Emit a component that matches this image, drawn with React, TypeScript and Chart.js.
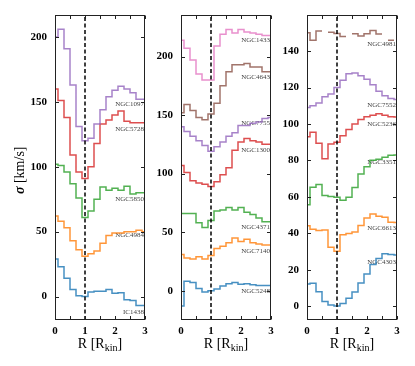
import React, { useEffect, useRef } from 'react';
import { Chart, registerables } from 'chart.js';

Chart.register(...registerables);

// ---------- data ----------
const R_BINS = [0, 0.2, 0.4, 0.6, 0.8, 1.0, 1.2, 1.4, 1.6, 1.8, 2.0, 2.2, 2.4, 2.6, 2.8, 3.0];
const BIN_HALF = 0.1;
const R_KIN = 1;
const X_RANGE = [0, 3];
const X_TICKS = [0, 0.5, 1, 1.5, 2, 2.5, 3];

// panel 1
const NGC1097 = [200, 206, 191, 163, 131, 120, 122, 133, 144, 154, 159, 162, 160, 157, 152, 152];
const NGC5728 = [160, 151, 138, 109, 96, 91, 100, 118, 133, 136, 140, 143, 135, 134, 134, 134];
const NGC5850 = [102, 101, 96, 87, 76, 61, 66, 75, 84.5, 82, 83.5, 82, 85, 79, 80, 80];
const NGC4984 = [62, 58, 53, 43, 36, 31, 33, 35, 41, 47, 49, 49, 50, 50, 51, 50];
const IC1438 = [29, 23, 14, 5.5, 0.5, 0, 3.5, 4, 4, 5.5, 2.5, 3, -2.5, -3, -7, -7];
const P1_NAMES = ['NGC1097', 'NGC5728', 'NGC5850', 'NGC4984', 'IC1438'];
const P1_LABEL_Y = [148.6, 129.2, 75, 47, -11.9];
const P1_Y_TICKS = [0, 50, 100, 150, 200];
const P1_Y_RANGE = [-18.1, 217.3];

// panel 2
const NGC1433 = [214, 207, 197, 185, 180, 180, 209, 219, 223, 220, 223, 221, 220, 219, 218, 218];
const NGC4643 = [152, 159, 154, 148, 146, 151, 160, 175, 187, 193, 193, 194, 191, 191, 187, 187];
const NGC7755 = [140, 136, 132, 128, 124, 119, 123, 127, 132, 135, 141, 141, 143, 144, 147, 148];
const NGC1300 = [107, 101, 94, 92, 91, 89, 93, 99, 105, 120, 127, 130, 128, 127, 125, 125];
const NGC4371 = [66, 66, 66, 58, 54, 60, 68, 69, 71, 69, 71, 67, 65, 62, 59, 59];
const NGC7140 = [31, 28, 27, 29, 27, 30, 36, 38, 41, 45, 42, 44, 41, 40, 39, 39];
const NGC5248 = [-13, 8, 7, 2, -1, 0, 1.5, 4, 6, 7, 5.5, 6, 5, 4.5, 4.5, 4.5];
const P2_NAMES = ['NGC1433', 'NGC4643', 'NGC7755', 'NGC1300', 'NGC4371', 'NGC7140', 'NGC5248'];
const P2_LABEL_Y = [214, 182.3, 143, 120.4, 54.5, 33.8, -0.3];
const P2_Y_TICKS = [0, 50, 100, 150, 200];
const P2_Y_RANGE = [-25, 235.8];

// panel 3
const NGC4981 = [150, 146, 151, null, 150.3, 149.6, 148, null, 149.5, 148.3, 149.5, 151.3, 149.3, null, 146, null];
const NGC7552 = [109, 110, 111.5, 115, 116.5, 120, 124, 127.5, 128, 126.5, 124.5, 121.5, 118, 115.5, 114, 113.5];
const NGC5236 = [93, 95.5, 89.5, 81, 89, 90, 93.5, 97, 100, 102.5, 104, 104.8, 105.6, 104.8, 104, 103.8];
const NGC3351 = [55.7, 65.3, 66.8, 60.8, 60.3, 59.8, 58.2, 59.8, 65.2, 72.6, 76.5, 80.1, 80.7, 81.7, 82.9, 83];
const NGC6613 = [44.2, 42.3, 41.6, 41.8, 32.4, 30.2, 39.3, 40, 40.7, 44.3, 48.4, 50.7, 49.4, 48.9, 46.1, 46];
const NGC4303 = [12.3, 12.6, 8, 2.7, 0.7, 0.2, 1.6, 4.4, 7.8, 12.8, 17.7, 22.9, 26.2, 28.9, 28.4, 28.2];
const P3_NAMES = ['NGC4981', 'NGC7552', 'NGC5236', 'NGC3351', 'NGC6613', 'NGC4303'];
const P3_LABEL_Y = [143.7, 110.1, 100.1, 79.2, 42.9, 24.3];
const P3_Y_TICKS = [0, 20, 40, 60, 80, 100, 120, 140];
const P3_Y_RANGE = [-7.5, 160];

// ---------- styles ----------
const C = {
  blue: 'rgba(31,119,180,0.82)',
  orange: 'rgba(255,127,14,0.82)',
  green: 'rgba(44,160,44,0.82)',
  red: 'rgba(214,39,40,0.82)',
  purple: 'rgba(148,103,189,0.82)',
  brown: 'rgba(140,86,75,0.82)',
  pink: 'rgba(227,119,194,0.82)',
};
const SERIF = '"Liberation Serif", "DejaVu Serif", serif';

const PANELS = [
  {
    left: 0, axisWidth: 55, yRange: P1_Y_RANGE, yTicks: P1_Y_TICKS, yTitle: true,
    series: [NGC1097, NGC5728, NGC5850, NGC4984, IC1438],
    names: P1_NAMES, labelY: P1_LABEL_Y,
    colors: [C.purple, C.red, C.green, C.orange, C.blue],
  },
  {
    left: 146, axisWidth: 35, yRange: P2_Y_RANGE, yTicks: P2_Y_TICKS, yTitle: false,
    series: [NGC1433, NGC4643, NGC7755, NGC1300, NGC4371, NGC7140, NGC5248],
    names: P2_NAMES, labelY: P2_LABEL_Y,
    colors: [C.pink, C.brown, C.purple, C.red, C.green, C.orange, C.blue],
  },
  {
    left: 272, axisWidth: 35, yRange: P3_Y_RANGE, yTicks: P3_Y_TICKS, yTitle: false,
    series: [NGC4981, NGC7552, NGC5236, NGC3351, NGC6613, NGC4303],
    names: P3_NAMES, labelY: P3_LABEL_Y,
    colors: [C.brown, C.purple, C.red, C.green, C.orange, C.blue],
  },
];

const PLOT_W = 90;
const PAD_R = 10;
const PAD_T = 14;
const X_AXIS_H = 46;
const H = 366;

function stepPoints(values: (number | null)[]) {
  const pts: { x: number; y: number | null }[] = [];
  values.forEach((v, i) => {
    const c = R_BINS[i];
    if (v === null) {
      pts.push({ x: c, y: null });
      return;
    }
    pts.push({ x: Math.max(X_RANGE[0], c - BIN_HALF), y: v });
    pts.push({ x: Math.min(X_RANGE[1], c + BIN_HALF), y: v });
  });
  return pts;
}

const framePlugin = {
  id: 'frame',
  beforeDatasetsDraw(chart: any, _a: any, opts: any) {
    const { ctx, chartArea: a, scales } = chart;
    ctx.save();
    ctx.font = `7px ${SERIF}`;
    ctx.fillStyle = '#444';
    ctx.textAlign = 'right';
    ctx.textBaseline = 'middle';
    (opts.labels || []).forEach((l: any) => {
      ctx.fillText(l.text, a.right - 1, scales.y.getPixelForValue(l.y));
    });
    ctx.restore();
  },
  afterDatasetsDraw(chart: any, _a: any, opts: any) {
    const { ctx, chartArea: a, scales } = chart;
    const L = Math.round(a.left) + 0.5;
    const R = Math.round(a.right) - 0.5;
    const T = Math.round(a.top) + 0.5;
    const B = Math.round(a.bottom) - 0.5;
    ctx.save();
    ctx.strokeStyle = '#222';
    ctx.lineWidth = 1;
    ctx.strokeRect(L, T, R - L, B - T);
    const tl = 3.5;
    ctx.beginPath();
    X_TICKS.forEach((v) => {
      const px = Math.round(scales.x.getPixelForValue(v)) + 0.5;
      ctx.moveTo(px, B); ctx.lineTo(px, B - tl);
      ctx.moveTo(px, T); ctx.lineTo(px, T + tl);
    });
    (opts.yTicks || []).forEach((v: number) => {
      const py = Math.round(scales.y.getPixelForValue(v)) + 0.5;
      ctx.moveTo(L, py); ctx.lineTo(L + tl, py);
      ctx.moveTo(R, py); ctx.lineTo(R - tl, py);
    });
    ctx.stroke();
    ctx.restore();
  },
  afterDraw(chart: any, _a: any, opts: any) {
    const { ctx, chartArea: a } = chart;
    ctx.save();
    ctx.fillStyle = '#000';
    ctx.textBaseline = 'alphabetic';
    // x title: R [R_kin]
    const big = `14px ${SERIF}`;
    const small = `10px ${SERIF}`;
    ctx.font = big;
    const w1 = ctx.measureText('R [R').width;
    const w3 = ctx.measureText(']').width;
    ctx.font = small;
    const w2 = ctx.measureText('kin').width;
    const total = w1 + w2 + w3;
    let x = (a.left + a.right) / 2 - total / 2;
    const yb = 348;
    ctx.textAlign = 'left';
    ctx.font = big;
    ctx.fillText('R [R', x, yb);
    x += w1;
    ctx.font = small;
    ctx.fillText('kin', x, yb + 3);
    x += w2;
    ctx.font = big;
    ctx.fillText(']', x, yb);
    if (opts.yTitle) {
      ctx.translate(24, (a.top + a.bottom) / 2 + 3);
      ctx.rotate(-Math.PI / 2);
      const sig = `italic bold 14px ${SERIF}`;
      ctx.font = sig;
      const ws = ctx.measureText('σ').width;
      ctx.font = big;
      const wr = ctx.measureText(' [km/s]').width;
      let xx = -(ws + wr) / 2;
      ctx.font = sig;
      ctx.fillText('σ', xx, 0);
      xx += ws;
      ctx.font = big;
      ctx.fillText(' [km/s]', xx, 0);
    }
    ctx.restore();
  },
};

function Panel({ cfg }: { cfg: (typeof PANELS)[number] }) {
  const ref = useRef<HTMLCanvasElement>(null);
  const width = cfg.axisWidth + PLOT_W + PAD_R;
  useEffect(() => {
    if (!ref.current) return;
    const tickFont = { family: SERIF, size: 11, weight: 'bold' as const };
    const datasets: any[] = cfg.series.map((vals, i) => ({
      data: stepPoints(vals),
      borderColor: cfg.colors[i],
      borderWidth: 1.5,
      pointRadius: 0,
      fill: false,
      tension: 0,
      spanGaps: false,
      order: 2,
    }));
    datasets.push({
      data: [
        { x: R_KIN, y: cfg.yRange[0] },
        { x: R_KIN, y: cfg.yRange[1] },
      ],
      borderColor: '#000',
      borderWidth: 1.5,
      borderDash: [4, 2.5],
      pointRadius: 0,
      fill: false,
      order: 0,
    });
    const chart = new Chart(ref.current, {
      type: 'line',
      data: { datasets },
      plugins: [framePlugin],
      options: {
        responsive: false,
        animation: false,
        events: [],
        layout: { padding: { left: 0, right: PAD_R, top: PAD_T, bottom: 0 } },
        plugins: {
          legend: { display: false },
          tooltip: { enabled: false },
          frame: {
            labels: cfg.names.map((n, i) => ({ text: n, y: cfg.labelY[i] })),
            yTicks: cfg.yTicks,
            yTitle: cfg.yTitle,
          },
        } as any,
        scales: {
          x: {
            type: 'linear',
            min: X_RANGE[0],
            max: X_RANGE[1],
            grid: { display: false, drawTicks: false },
            border: { display: false },
            ticks: {
              font: tickFont,
              color: '#000',
              padding: 5,
              maxRotation: 0,
              autoSkip: false,
              callback: (v: any) => (Number.isInteger(v) ? String(v) : ''),
            },
            afterBuildTicks: (s: any) => {
              s.ticks = X_TICKS.map((v) => ({ value: v }));
            },
            afterFit: (s: any) => {
              s.height = X_AXIS_H;
            },
          },
          y: {
            type: 'linear',
            min: cfg.yRange[0],
            max: cfg.yRange[1],
            grid: { display: false, drawTicks: false },
            border: { display: false },
            ticks: { font: tickFont, color: '#000', padding: 8, autoSkip: false },
            afterBuildTicks: (s: any) => {
              s.ticks = cfg.yTicks.map((v) => ({ value: v }));
            },
            afterFit: (s: any) => {
              s.width = cfg.axisWidth;
            },
          },
        },
      } as any,
    });
    return () => chart.destroy();
  }, [cfg]);
  return (
    <canvas
      ref={ref}
      width={width}
      height={H}
      style={{ position: 'absolute', left: cfg.left, top: 0, width, height: H }}
    />
  );
}

export default function App() {
  return (
    <div style={{ position: 'absolute', left: 0, top: 0, width: 415, height: 366, background: '#fff' }}>
      {PANELS.map((p, i) => (
        <Panel key={i} cfg={p} />
      ))}
    </div>
  );
}
